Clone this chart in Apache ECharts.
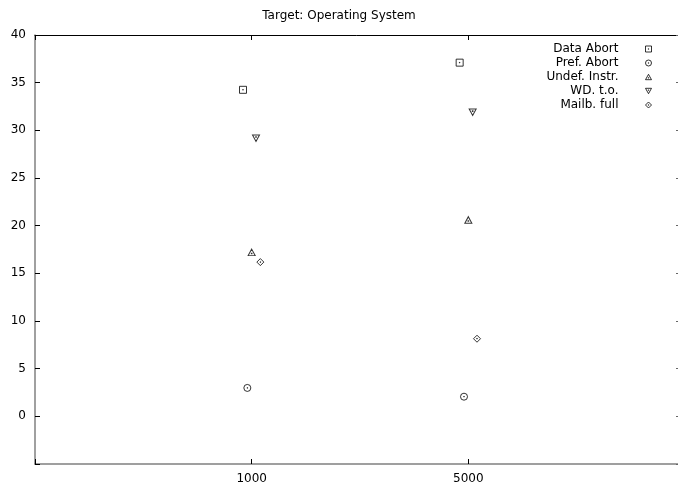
<!DOCTYPE html>
<html><head><meta charset="utf-8">
<script src="https://cdn.jsdelivr.net/npm/echarts@6/dist/echarts.min.js"></script>
<style>html,body{margin:0;padding:0;background:#fff}#c{width:678px;height:487px}</style>
</head><body><div id="c"></div>
<script>
const categories = ['1000', '5000'];
const seriesNames = ['Data Abort', 'Pref. Abort', 'Undef. Instr.', 'WD. t.o.', 'Mailb. full'];
const dataAbort = [34.25, 37.1];
const prefAbort = [2.98, 2.06];
const undefInstr = [17.2, 20.6];
const wdTimeout = [29.18, 31.9];
const mailbFull = [16.18, 8.14];
const yTickLabels = ['', '0', '5', '10', '15', '20', '25', '30', '35', '40'];
const xTickLabels = ['', '1000', '5000', ''];

const allValues = [dataAbort, prefAbort, undefInstr, wdTimeout, mailbFull];
const offsets = [-0.04, -0.02, 0, 0.02, 0.04];
const symbols = [
  'path://M0,0H10V10H0Z M4.6,4.6H5.4V5.4H4.6Z',
  'path://M5,0A5,5 0 1,1 4.99,0Z M4.6,4.6H5.4V5.4H4.6Z',
  'path://M5,0L10,9H0Z M4.6,5.6H5.4V6.4H4.6Z',
  'path://M0,0H10L5,9Z M4.6,2.6H5.4V3.4H4.6Z',
  'path://M5,0L10,5L5,10L0,5Z M4.6,4.6H5.4V5.4H4.6Z'
];
const sizes = [[7,7],[7,7],[7,6.5],[7,6.5],[7,7]];

const hollow = { color: 'rgba(0,0,0,0)', borderColor: '#000', borderWidth: 1 };
const series = seriesNames.map((name, i) => ({
  name: name,
  type: 'scatter',
  symbol: symbols[i],
  symbolSize: sizes[i],
  itemStyle: hollow,
  data: allValues[i].map((v, k) => [k + 1 + offsets[i], v]),
  xAxisIndex: 0, yAxisIndex: 0
}));

const chart = echarts.init(document.getElementById('c'), null, { renderer: 'canvas' });
const font = 'DejaVu Sans, Liberation Sans, sans-serif';
chart.setOption({
  animation: false,
  backgroundColor: '#fff',
  textStyle: { fontFamily: font },
  title: {
    text: 'Target: Operating System',
    left: 'center', top: 5,
    textStyle: { fontSize: 12, fontWeight: 'normal', color: '#000', fontFamily: font }
  },
  grid: { left: 35, top: 35, right: -7, bottom: 23, outerBoundsMode: 'none', containLabel: false },
  legend: {
    orient: 'vertical',
    right: 21, top: 38,
    align: 'right',
    itemGap: 2,
    itemWidth: 6, itemHeight: 6,
    itemStyle: hollow,
    textStyle: { fontSize: 12, color: '#000', fontFamily: font, width: 100, align: 'right', padding: [0, 22, 0, 0] },
    data: seriesNames
  },
  xAxis: [
    {
      type: 'value', position: 'bottom', min: 0, max: 3, interval: 1,
      splitLine: { show: false },
      axisLine: { show: true, onZero: false, lineStyle: { color: '#808080', width: 1.5 } },
      axisTick: { show: true, inside: true, length: 5, lineStyle: { color: '#000' } },
      axisLabel: { show: true, color: '#000', fontSize: 12, margin: 9, fontFamily: font,
        formatter: v => xTickLabels[Math.round(v)] || '' }
    },
    {
      type: 'value', position: 'top', min: 0, max: 3, interval: 1,
      splitLine: { show: false },
      axisLine: { show: true, onZero: false, lineStyle: { color: '#000', width: 1 } },
      axisTick: { show: true, inside: true, length: 5, lineStyle: { color: '#000' } },
      axisLabel: { show: false }
    }
  ],
  yAxis: [
    {
      type: 'value', position: 'left', min: -5, max: 40, interval: 5,
      splitLine: { show: false },
      axisLine: { show: true, onZero: false, lineStyle: { color: '#808080', width: 1.5 } },
      axisTick: { show: true, inside: true, length: 5, lineStyle: { color: '#000' } },
      axisLabel: { show: true, color: '#000', fontSize: 12, margin: 9, fontFamily: font,
        formatter: v => yTickLabels[Math.round((v + 5) / 5)] || '' }
    },
    {
      type: 'value', position: 'right', min: -5, max: 40, interval: 5,
      splitLine: { show: false },
      axisLine: { show: false, onZero: false },
      axisTick: { show: true, inside: true, length: 9, lineStyle: { color: '#666' } },
      axisLabel: { show: false }
    }
  ],
  series: series
});
</script>
</body></html>
